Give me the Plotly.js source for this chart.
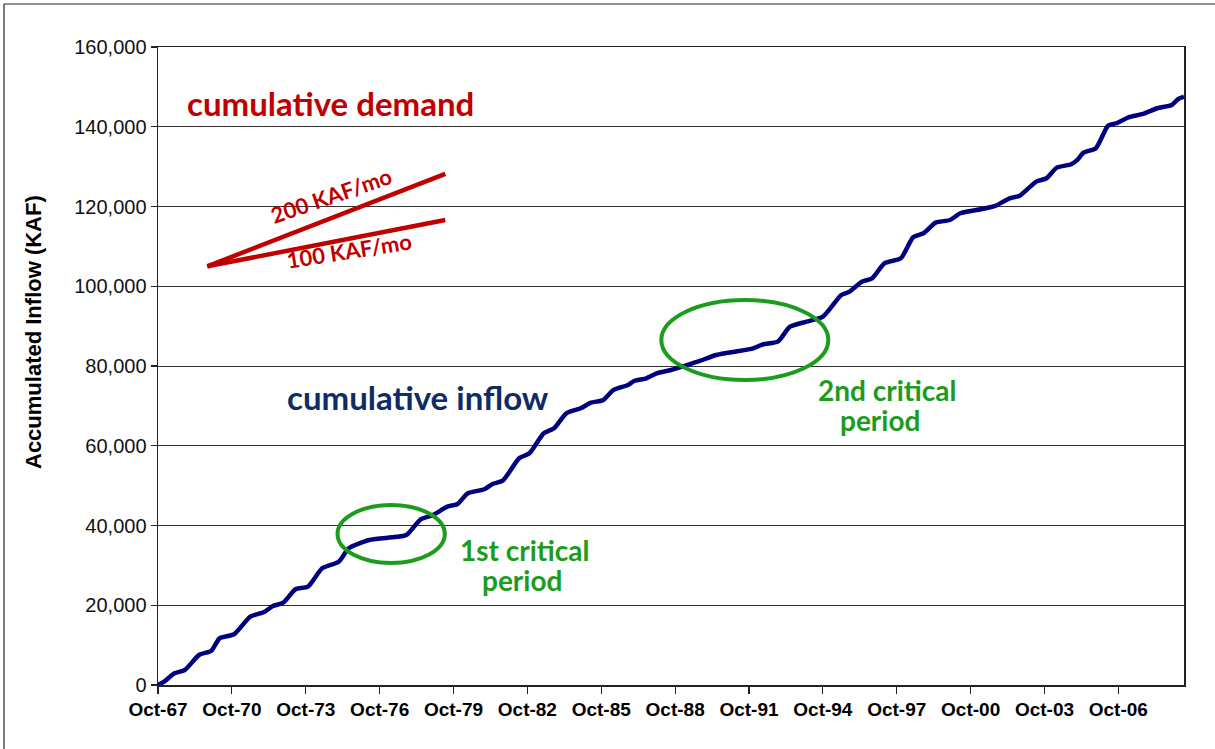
<!DOCTYPE html>
<html>
<head>
<meta charset="utf-8">
<script src="https://cdn.plot.ly/plotly-3.0.1.min.js"></script>
<style>
html,body{margin:0;padding:0;background:#fff;}
#chart{width:1215px;height:749px;}
</style>
</head>
<body>
<div id="chart"></div>
<script>
// Cumulative inflow (KAF)
const inflowDates = [
 "1967-10-01","1968-01-01","1968-06-01","1968-11-01","1969-06-01","1969-12-01",
 "1970-04-01","1970-11-01","1971-07-01","1972-02-01","1972-06-01","1972-11-01",
 "1973-05-01","1973-11-01","1974-06-01","1975-02-01","1975-07-01","1976-05-01",
 "1977-02-01","1977-11-01","1978-06-01","1978-12-01","1979-07-01","1979-12-01",
 "1980-05-01","1981-01-01","1981-05-01","1981-10-01","1982-06-01","1982-11-01",
 "1983-06-01","1983-11-01","1984-05-01","1984-12-01","1985-05-01","1985-11-01",
 "1986-04-01","1986-11-01","1987-02-01","1987-08-01","1988-01-01","1988-08-01",
 "1989-04-01","1989-10-01","1990-06-01","1991-03-01","1991-12-01","1992-05-01",
 "1992-12-01","1993-06-01","1994-02-01","1994-10-01","1995-07-01","1995-11-01",
 "1996-05-01","1996-10-01","1997-04-01","1997-12-01","1998-06-01","1998-11-01",
 "1999-05-01","1999-12-01","2000-05-01","2001-03-01","2001-10-01","2002-05-01",
 "2002-10-01","2003-06-01","2003-11-01","2004-04-01","2004-11-01","2005-02-01",
 "2005-05-01","2005-11-01","2006-05-01","2006-09-01","2007-03-01","2007-10-01",
 "2008-05-01","2008-12-01","2009-03-01","2009-06-01"
];
const inflowValues = [
 0, 830, 2930, 3760, 7520, 8600,
 11710, 12720, 17130, 18380, 19810, 20640,
 24000, 24650, 29270, 30920, 34280, 36370,
 36940, 37620, 41560, 42640, 44720, 45400,
 48080, 49080, 50410, 51240, 56860, 58110,
 63130, 64380, 68140, 69400, 70800, 71480,
 73990, 75240, 76240, 76920, 78170, 79000,
 80260, 81260, 82760, 83590, 84440, 85450,
 86100, 89860, 91120, 92370, 97810, 98640,
 101150, 102000, 105760, 107020, 112280, 113290,
 115950, 116620, 118300, 119310, 120130, 122060,
 122720, 126230, 127080, 129740, 130590, 131670,
 133500, 134610, 140270, 140880, 142380, 143210,
 144640, 145460, 146890, 147550
];

// Cumulative demand reference lines (KAF)
const demandDates = ["1969-10-01", "1979-06-01"];
const demand200 = [105000, 128200];
const demand100 = [105000, 116600];

// Axis ticks
const yTickVals = [0, 20000, 40000, 60000, 80000, 100000, 120000, 140000, 160000];

const L = 158, R = 1184, T = 47, B = 685;
const px = x => (x - L) / (R - L);
const py = y => (B - y) / (B - T);

const red = "#C00000";
const green = "#1C9C1C";
const navyText = "#102C66";
const calib = "Lato, 'Open Sans', sans-serif";
const arial = "Arial, 'Liberation Sans', sans-serif";

function note(text, x, y, size, color, angle, family) {
  return {text: text, xref: "paper", yref: "paper", x: px(x), y: py(y),
          xanchor: "center", yanchor: "middle", showarrow: false, align: "center",
          textangle: angle || 0,
          font: {family: family || calib, size: size, color: color}};
}

const traces = [
  {x: inflowDates, y: inflowValues, type: "scatter", mode: "lines",
   line: {color: "#000080", width: 4.5, shape: "spline", smoothing: 0.6},
   showlegend: false},
  {x: demandDates, y: demand200, type: "scatter", mode: "lines",
   line: {color: red, width: 4.5}, showlegend: false},
  {x: demandDates, y: demand100, type: "scatter", mode: "lines",
   line: {color: red, width: 4.5}, showlegend: false}
];

const layout = {
  width: 1215, height: 749,
  margin: {l: L, r: 1215 - R, t: T, b: 749 - B},
  paper_bgcolor: "#ffffff", plot_bgcolor: "#ffffff",
  showlegend: false,
  xaxis: {
    type: "date",
    range: ["1967-10-01", "2009-06-01"],
    tick0: "1967-10-01", dtick: "M36", tickformat: "%b-%y",
    ticks: "outside", ticklen: 7, tickwidth: 1.2, tickcolor: "#222",
    showgrid: false, zeroline: false,
    showline: true, linecolor: "#222", linewidth: 1.5, mirror: true,
    tickfont: {family: arial, size: 19, color: "#000", weight: "bold"}
  },
  yaxis: {
    range: [0, 160000],
    tickvals: yTickVals, tickformat: ",d",
    ticks: "outside", ticklen: 6, tickwidth: 1.2, tickcolor: "#222",
    showgrid: true, gridcolor: "#333", gridwidth: 1,
    zeroline: false,
    showline: true, linecolor: "#222", linewidth: 1.5, mirror: true,
    tickfont: {family: arial, size: 20, color: "#111"}
  },
  shapes: [
    {type: "circle", xref: "x", yref: "y",
     x0: "1975-01-15", x1: "1979-05-25", y0: 30600, y1: 45150,
     line: {color: green, width: 4}},
    {type: "circle", xref: "x", yref: "y",
     x0: "1988-03-10", x1: "1994-12-21", y0: 76500, y1: 96560,
     line: {color: green, width: 4}},
    {type: "line", xref: "paper", yref: "paper",
     x0: px(4), x1: px(4), y0: py(749), y1: py(4),
     line: {color: "#222", width: 1.2}},
    {type: "line", xref: "paper", yref: "paper",
     x0: px(4), x1: px(1215), y0: py(4), y1: py(4),
     line: {color: "#222", width: 1.2}}
  ],
  annotations: [
    note("<b>Accumulated Inflow (KAF)</b>", 33, 332, 22, "#000", -90, arial),
    note("<b>cumulative demand</b>", 330, 103, 33, red),
    note("<b>cumulative inflow</b>", 418, 397, 33, navyText),
    note("<b>1st critical</b>", 525, 550, 28, green),
    note("<b>period</b>", 522, 580, 28, green),
    note("<b>2nd critical</b>", 887, 390, 28, green),
    note("<b>period</b>", 880, 420, 28, green),
    note("<b>200 KAF/mo</b>", 331, 195, 22, red, -19),
    note("<b>100 KAF/mo</b>", 349, 250, 22, red, -9)
  ]
};

Plotly.newPlot("chart", traces, layout, {displayModeBar: false, staticPlot: true});
</script>
</body>
</html>
